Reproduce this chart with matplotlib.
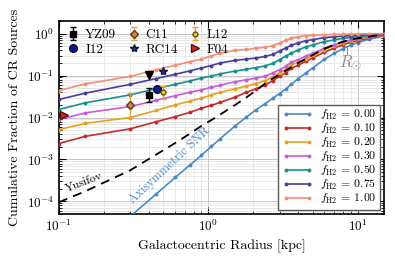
import numpy as np
import matplotlib
matplotlib.use("Agg")
import matplotlib.pyplot as plt

plt.rcParams['font.family'] = 'serif'
plt.rcParams['font.serif'] = ['cmr10', 'DejaVu Serif']
plt.rcParams['mathtext.fontset'] = 'cm'
plt.rcParams['axes.formatter.use_mathtext'] = True
plt.rcParams['axes.unicode_minus'] = False

# galactocentric radius grid [kpc]
radii = [0.1, 0.15, 0.3, 0.45, 0.6, 0.75, 0.9, 1.05, 1.2, 1.5, 1.8, 2.1, 2.4,
         2.7, 3.0, 3.3, 3.6, 4.0, 4.5, 5.0, 6.0, 7.0, 8.0, 9.0, 10.0, 12.0, 15.0]

# log10 of the cumulative fraction
log_f000 = [-4.36, -3.82, -3.43, -3.14, -2.90, -2.69, -2.51, -2.21, -1.99, -1.81,
            -1.67, -1.54, -1.43, -1.32, -1.21, -1.07, -0.94, -0.82, -0.61, -0.464,
            -0.357, -0.274, -0.214, -0.131, -0.055]
log_f010 = [-2.62, -2.45, -2.27, -2.10, -1.98, -1.88, -1.78, -1.71, -1.64, -1.52,
            -1.40, -1.31, -1.23, -1.12, -1.02, -0.93, -0.83, -0.75, -0.66, -0.58,
            -0.44, -0.34, -0.265, -0.205, -0.165, -0.105, -0.045]
log_f020 = [-2.29, -2.14, -2.00, -1.83, -1.70, -1.61, -1.54, -1.46, -1.40, -1.32,
            -1.25, -1.19, -1.12, -1.04, -0.93, -0.845, -0.74, -0.68, -0.60, -0.52,
            -0.38, -0.285, -0.215, -0.165, -0.13, -0.085, -0.038]
log_f030 = [-2.05, -1.89, -1.74, -1.59, -1.48, -1.40, -1.34, -1.28, -1.23, -1.15,
            -1.10, -1.06, -1.01, -0.94, -0.86, -0.78, -0.68, -0.62, -0.54, -0.47,
            -0.35, -0.26, -0.195, -0.15, -0.118, -0.075, -0.033]
log_f050 = [-1.81, -1.65, -1.46, -1.31, -1.21, -1.13, -1.06, -1.01, -0.96, -0.895,
            -0.85, -0.81, -0.77, -0.71, -0.62, -0.536, -0.464, -0.39, -0.314, -0.27,
            -0.19, -0.148, -0.114, -0.093, -0.074, -0.048, -0.024]
log_f075 = [-1.57, -1.42, -1.21, -1.07, -0.97, -0.89, -0.82, -0.76, -0.70, -0.64,
            -0.607, -0.58, -0.545, -0.495, -0.417, -0.34, -0.28, -0.22, -0.171, -0.143,
            -0.095, -0.076, -0.06, -0.048, -0.038, -0.029, -0.014]
log_f100 = [-1.357, -1.20, -1.02, -0.86, -0.755, -0.67, -0.61, -0.53, -0.47, -0.40,
            -0.376, -0.35, -0.32, -0.29, -0.226, -0.16, -0.114, -0.076, -0.048, -0.038,
            -0.024, -0.019, -0.014, -0.01, -0.007, -0.003, 0.0]
log_yusifov = [-4.02, -3.76, -3.26, -2.88, -2.61, -2.39, -2.20, -2.06, -1.93, -1.71,
               -1.52, -1.35, -1.19, -1.07, -0.976, -0.88, -0.80, -0.70, -0.60, -0.51,
               -0.36, -0.26, -0.19, -0.143, -0.112, -0.067, -0.024]

fh2_labels = ['0.00', '0.10', '0.20', '0.30', '0.50', '0.75', '1.00']
colors = ['#4a8ac6', '#c62a2a', '#e6a21c', '#c65cd8', '#17918a', '#4b3d9b', '#f28f76']

# observational points: (radius, fraction, err_low, err_high)
yz09 = (0.404, 0.035, 0.012, 0.015)
yz09_lim = (0.404, 0.106)
c11 = (0.30, 0.020, 0.0098, 0.018)
l12 = (0.50, 0.040, 0.012, 0.015)
i12 = (0.452, 0.048)
rc14 = (0.50, 0.13)
f04 = (0.108, 0.0118)

fig = plt.figure(figsize=(3.95, 2.61), dpi=100)
ax = fig.add_axes([0.149, 0.18, 0.823, 0.7395])

curves = [log_f000, log_f010, log_f020, log_f030, log_f050, log_f075, log_f100]
lines = []
for i in range(len(curves)):
    r = radii[len(radii) - len(curves[i]):]
    ln, = ax.plot(r, 10 ** np.array(curves[i]), '-o', color=colors[i], lw=1.2,
                  ms=1.8, zorder=3, label=r'$f_{\rm H2}$ = ' + fh2_labels[i])
    lines.append(ln)

ax.plot(radii, 10 ** np.array(log_yusifov), color='k', lw=1.3, dashes=(5, 3.5), zorder=4)

# data points
pts = []
pts.append(ax.errorbar([yz09[0]], [yz09[1]], yerr=[[yz09[2]], [yz09[3]]], fmt='s',
                       color='k', ms=4, capsize=2.5, elinewidth=1, zorder=6, label='YZ09'))
ax.plot([yz09_lim[0]], [yz09_lim[1]], 'v', color='k', ms=6, zorder=6)
pts.append(ax.plot([i12[0]], [i12[1]], 'o', color='#0b1a8c', mec='#050a40', ms=5.5,
                   zorder=6, label='I12')[0])
pts.append(ax.errorbar([c11[0]], [c11[1]], yerr=[[c11[2]], [c11[3]]], fmt='D',
                       color='#e8a040', mfc='#c8864a', mec='#5a3a1a', ms=4.5, capsize=2.5,
                       elinewidth=1, zorder=6, label='C11'))
pts.append(ax.plot([rc14[0]], [rc14[1]], '*', color='#1a3a7a', mec='#0a1a40', ms=6,
                   zorder=6, label='RC14')[0])
pts.append(ax.errorbar([l12[0]], [l12[1]], yerr=[[l12[2]], [l12[3]]], fmt='o',
                       color='#e8a317', mfc='#f0c040', mec='#6a5000', ms=3.5, capsize=2.5,
                       elinewidth=1, zorder=6, label='L12'))
pts.append(ax.plot([f04[0]], [f04[1]], '>', color='#c62a2a', mec='#5a1010', ms=6,
                   zorder=6, label='F04')[0])

# annotations
ax.text(0.55, 7.4e-4, 'Axisymmetric SNR', color='#4a8ac6', rotation=43,
        ha='center', va='center', fontsize=9)
ax.text(0.148, 2.8e-4, 'Yusifov', color='k', rotation=21,
        ha='center', va='center', fontsize=8.5)
ax.plot([8.5, 8.5], [0.32, 0.47], color='0.55', lw=0.8, zorder=5)
ax.text(8.9, 0.2, r'$R_{\odot}$', color='0.55', ha='center', va='center', fontsize=12)

ax.set_xscale('log')
ax.set_yscale('log')
ax.set_xlim(0.1, 15)
ax.set_ylim(5e-5, 2)
ax.set_xlabel('Galactocentric Radius [kpc]', fontsize=10)
ax.set_ylabel('Cumulative Fraction of CR Sources', fontsize=10)
ax.tick_params(which='both', direction='in', top=True, right=True, labelsize=9.5)
ax.tick_params(which='major', length=5)
ax.tick_params(which='minor', length=2.5)
ax.grid(which='major', color='0.78', lw=0.7, zorder=0)
ax.grid(which='minor', color='0.88', lw=0.5, zorder=0)
for s in ax.spines.values():
    s.set_linewidth(1.2)

leg1 = ax.legend(handles=pts, loc='upper left', ncol=3, frameon=False, fontsize=9.5,
                 handlelength=1.0, handletextpad=0.4, columnspacing=0.8,
                 borderaxespad=0.2, labelspacing=0.2)
ax.add_artist(leg1)
ax.legend(handles=lines, loc='lower right', fontsize=8.5, fancybox=False,
          edgecolor='0.35', framealpha=1, numpoints=2, handlelength=2.6,
          labelspacing=0.0, borderpad=0.3, borderaxespad=0.35, handletextpad=0.6)

fig.savefig('out.png', dpi=100)
